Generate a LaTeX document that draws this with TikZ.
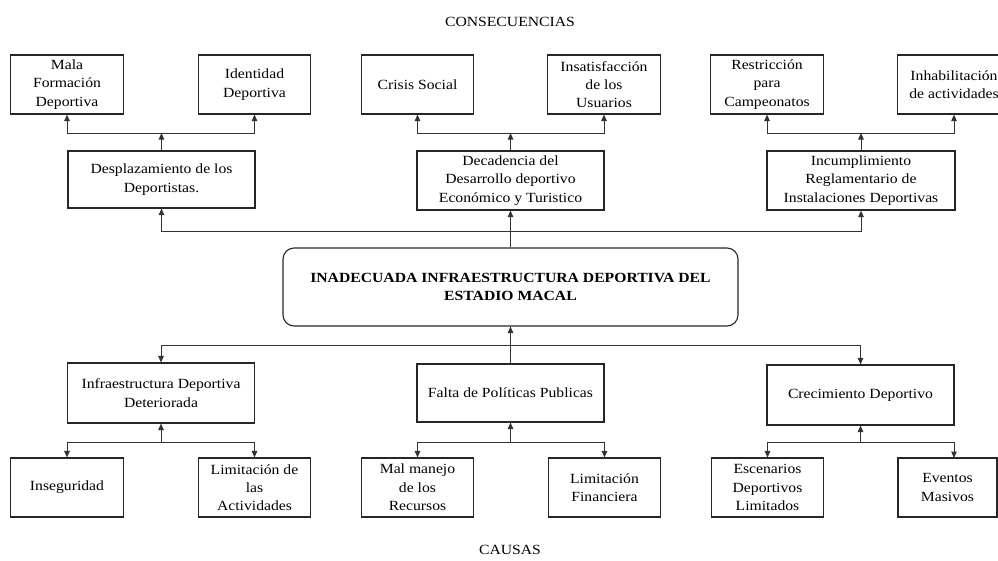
\documentclass[tikz,border=0pt]{standalone}
\usepackage{fontspec}
\setmainfont{Liberation Serif}[FakeStretch=1.12]
\usetikzlibrary{arrows.meta}
\begin{document}
\begin{tikzpicture}[x=1pt,y=-1pt,
  font=\fontsize{14}{18.3}\selectfont,
  box/.style={draw=black!85,line width=1.1pt,rectangle,inner sep=0pt,align=center,minimum height=59pt},
  small/.style={box,minimum width=112.5pt},
  mid/.style={box,minimum width=187pt},
  mainbox/.style={draw=black!85,line width=1.1pt,rounded corners=11pt,inner sep=0pt,align=center,minimum width=455pt,minimum height=78pt,font=\fontsize{14}{18.3}\selectfont\bfseries},
  arr/.style={draw=black!80,line width=1pt,-{Triangle[length=6.5pt,width=5.5pt]}}]
\useasboundingbox (0,0) rectangle (998,560);

\node (tcons) at (510,22) {CONSECUENCIAS};
\node (tcaus) at (510,550) {CAUSAS};

% consequences
\node[small] (c1) at (67,84.5) {Mala\\Formación\\Deportiva};
\node[small] (c2) at (254.5,84.5) {Identidad\\Deportiva};
\node[small] (c3) at (417.5,84.5) {Crisis Social};
\node[small] (c4) at (604,84.5) {Insatisfacción\\de los\\Usuarios};
\node[small] (c5) at (767,84.5) {Restricción\\para\\Campeonatos};
\node[small] (c6) at (954,84.5) {Inhabilitación\\de actividades};

\node[mid,minimum height=57pt] (e1) at (161.5,179.5) {Desplazamiento de los\\Deportistas.};
\node[mid] (e2) at (510.5,180.5) {Decadencia del\\Desarrollo deportivo\\Económico y Turistico};
\node[mid,minimum width=188pt] (e3) at (861,180.5) {Incumplimiento\\Reglamentario de\\Instalaciones Deportivas};

\node[mainbox] (m) at (510.5,287) {INADECUADA INFRAESTRUCTURA DEPORTIVA DEL\\ESTADIO MACAL};

% causes
\node[mid,minimum height=60pt] (k1) at (161,393) {Infraestructura Deportiva\\Deteriorada};
\node[mid,minimum height=58pt] (k2) at (510.5,393) {Falta de Políticas Publicas};
\node[mid,minimum height=60pt] (k3) at (860.5,395) {Crecimiento Deportivo};

\node[small] (s1) at (67,487.5) {Inseguridad};
\node[small] (s2) at (254.5,487.5) {Limitación de\\las\\Actividades};
\node[small] (s3) at (417.5,487.5) {Mal manejo\\de los\\Recursos};
\node[small] (s4) at (604.5,487.5) {Limitación\\Financiera};
\node[small] (s5) at (767.5,487.5) {Escenarios\\Deportivos\\Limitados};
\node[small,minimum width=99pt] (s6) at (947.5,487.5) {Eventos\\Masivos};

% junction coordinates
\coordinate (j1) at (161.5,133);
\coordinate (j2) at (510.5,133);
\coordinate (j3) at (861,133);
\coordinate (jm) at (510.5,231);
\coordinate (jb) at (510.5,345);
\coordinate (b1) at (161,442);
\coordinate (b2) at (510.5,442);
\coordinate (b3) at (860.5,442);
\coordinate (s6in) at (954,458);

% top tree
\draw[arr] (e1.north) -- (j1);
\draw[arr] (j1) -| (c1.south);
\draw[arr] (j1) -| (c2.south);
\draw[arr] (e2.north) -- (j2);
\draw[arr] (j2) -| (c3.south);
\draw[arr] (j2) -| (c4.south);
\draw[arr] (e3.north) -- (j3);
\draw[arr] (j3) -| (c5.south);
\draw[arr] (j3) -| (c6.south);

% middle
\draw[arr] (m.north) -- (e2.south);
\draw[arr] (jm) -| (e1.south);
\draw[arr] (jm) -| (e3.south);

% bottom
\draw[arr] (k2.north) -- (m.south);
\draw[arr] (jb) -| (k1.north);
\draw[arr] (jb) -| (k3.north);

\draw[arr] (b1) -- (k1.south);
\draw[arr] (b1) -| (s1.north);
\draw[arr] (b1) -| (s2.north);
\draw[arr] (b2) -- (k2.south);
\draw[arr] (b2) -| (s3.north);
\draw[arr] (b2) -| (s4.north);
\draw[arr] (b3) -- (k3.south);
\draw[arr] (b3) -| (s5.north);
\draw[arr] (b3) -| (s6in);
\end{tikzpicture}
\end{document}
